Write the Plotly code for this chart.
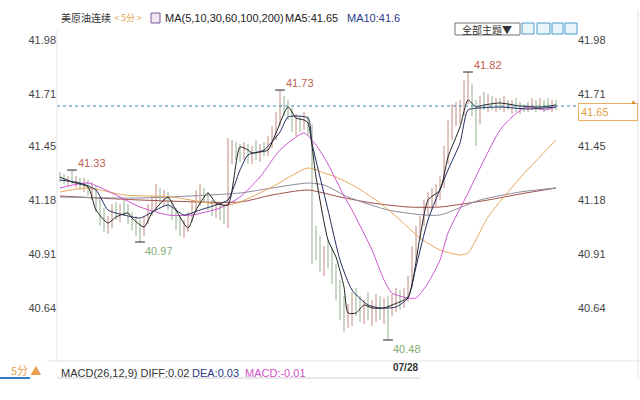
import plotly.graph_objects as go

# ---------------- data ----------------
bar_idx = list(range(125))
opens = [41.31, 41.29, 41.28, 41.29, 41.27, 41.28, 41.25, 41.27, 41.22, 41.24,
         41.15, 41.08, 41.05, 41.07, 41.13, 41.10, 41.14, 41.12, 41.08, 41.05,
         41.04, 41.02, 41.08, 41.14, 41.17, 41.22, 41.19, 41.21, 41.15, 41.10,
         41.06, 41.03, 41.05, 41.10, 41.15, 41.19, 41.22, 41.20, 41.15, 41.13,
         41.14, 41.12, 41.12, 41.40, 41.44, 41.42, 41.40, 41.45, 41.40, 41.43,
         41.41, 41.43, 41.42, 41.47, 41.52, 41.58, 41.66, 41.64, 41.62, 41.56,
         41.58, 41.55, 41.59, 41.52, 40.95, 40.92, 40.86, 40.90, 40.88, 40.80,
         40.72, 40.62, 40.60, 40.62, 40.68, 40.65, 40.63, 40.66, 40.62, 40.64,
         40.65, 40.63, 40.66, 40.62, 40.67, 40.69, 40.68, 40.71, 40.77, 40.92,
         41.02, 41.08, 41.15, 41.18, 41.20, 41.22, 41.27, 41.40, 41.52, 41.60,
         41.63, 41.65, 41.70, 41.72, 41.64, 41.58, 41.68, 41.66, 41.69, 41.65,
         41.67, 41.66, 41.67, 41.65, 41.66, 41.64, 41.65, 41.64, 41.65, 41.67,
         41.65, 41.67, 41.66, 41.65, 41.66]
highs = [41.32, 41.31, 41.30, 41.33, 41.30, 41.29, 41.29, 41.28, 41.27, 41.25,
         41.19, 41.14, 41.10, 41.16, 41.17, 41.16, 41.18, 41.16, 41.12, 41.10,
         41.08, 41.10, 41.16, 41.20, 41.26, 41.24, 41.23, 41.22, 41.18, 41.14,
         41.10, 41.08, 41.12, 41.18, 41.23, 41.26, 41.24, 41.22, 41.18, 41.17,
         41.16, 41.15, 41.49, 41.48, 41.47, 41.46, 41.47, 41.46, 41.45, 41.48,
         41.46, 41.47, 41.50, 41.55, 41.62, 41.73, 41.70, 41.68, 41.64, 41.61,
         41.60, 41.62, 41.60, 41.56, 41.05, 41.00, 40.95, 40.98, 40.94, 40.86,
         40.78, 40.70, 40.66, 40.72, 40.74, 40.70, 40.68, 40.72, 40.68, 40.71,
         40.70, 40.69, 40.70, 40.71, 40.74, 40.73, 40.74, 40.80, 40.95, 41.05,
         41.10, 41.18, 41.22, 41.24, 41.26, 41.30, 41.45, 41.58, 41.66, 41.67,
         41.68, 41.78, 41.82, 41.76, 41.68, 41.70, 41.72, 41.71, 41.70, 41.69,
         41.69, 41.70, 41.68, 41.68, 41.69, 41.67, 41.66, 41.67, 41.69, 41.68,
         41.69, 41.68, 41.69, 41.68, 41.68]
lows = [41.27, 41.26, 41.25, 41.26, 41.24, 41.23, 41.22, 41.20, 41.18, 41.12,
        41.05, 41.02, 41.01, 41.04, 41.08, 41.07, 41.10, 41.06, 41.03, 41.00,
        40.97, 41.00, 41.06, 41.10, 41.13, 41.16, 41.15, 41.13, 41.08, 41.03,
        41.00, 40.99, 41.02, 41.07, 41.12, 41.15, 41.17, 41.13, 41.10, 41.09,
        41.08, 41.06, 41.04, 41.36, 41.38, 41.37, 41.38, 41.36, 41.36, 41.38,
        41.37, 41.40, 41.40, 41.44, 41.48, 41.55, 41.60, 41.58, 41.52, 41.50,
        41.52, 41.53, 41.50, 40.86, 40.88, 40.82, 40.80, 40.84, 40.76, 40.68,
        40.58, 40.52, 40.54, 40.55, 40.60, 40.57, 40.56, 40.58, 40.55, 40.57,
        40.58, 40.56, 40.48, 40.60, 40.62, 40.63, 40.64, 40.67, 40.74, 40.88,
        40.98, 41.05, 41.10, 41.13, 41.15, 41.18, 41.24, 41.36, 41.48, 41.55,
        41.56, 41.60, 41.66, 41.60, 41.45, 41.56, 41.63, 41.62, 41.63, 41.62,
        41.63, 41.62, 41.63, 41.61, 41.62, 41.61, 41.62, 41.62, 41.63, 41.62,
        41.63, 41.62, 41.63, 41.62, 41.63]
closes = [41.29, 41.28, 41.29, 41.27, 41.28, 41.25, 41.27, 41.22, 41.24, 41.15,
          41.08, 41.05, 41.07, 41.13, 41.10, 41.14, 41.12, 41.08, 41.05, 41.04,
          41.02, 41.08, 41.14, 41.17, 41.22, 41.19, 41.21, 41.15, 41.10, 41.06,
          41.03, 41.05, 41.10, 41.15, 41.19, 41.22, 41.20, 41.15, 41.13, 41.14,
          41.12, 41.10, 41.40, 41.44, 41.42, 41.40, 41.45, 41.40, 41.43, 41.41,
          41.43, 41.42, 41.47, 41.52, 41.58, 41.66, 41.64, 41.62, 41.56, 41.58,
          41.55, 41.59, 41.52, 40.95, 40.92, 40.86, 40.90, 40.88, 40.80, 40.72,
          40.62, 40.60, 40.62, 40.68, 40.65, 40.63, 40.66, 40.62, 40.64, 40.65,
          40.63, 40.66, 40.62, 40.67, 40.69, 40.68, 40.71, 40.77, 40.92, 41.02,
          41.08, 41.15, 41.18, 41.20, 41.22, 41.27, 41.40, 41.52, 41.60, 41.63,
          41.65, 41.70, 41.72, 41.64, 41.58, 41.68, 41.66, 41.69, 41.65, 41.67,
          41.66, 41.67, 41.65, 41.66, 41.64, 41.65, 41.64, 41.65, 41.67, 41.65,
          41.67, 41.66, 41.65, 41.66, 41.65]

# moving averages, sampled at bar indices
ma5_x = [0, 3, 7, 9, 12, 14, 17, 18, 21, 23, 27, 28, 32, 34, 37, 39, 42, 45, 47, 48, 50, 52, 54, 57, 59, 61, 62, 64, 67, 69, 71, 72, 74, 76, 78, 81, 83, 87, 90, 92, 95, 97, 100, 102, 104, 106, 110, 115, 120, 124]
ma5_y = [41.295, 41.27, 41.245, 41.13, 41.065, 41.095, 41.115, 41.09, 41.045, 41.115, 41.195, 41.165, 41.04, 41.13, 41.215, 41.165, 41.155, 41.445, 41.43, 41.415, 41.42, 41.43, 41.515, 41.645, 41.59, 41.58, 41.565, 41.295, 40.98, 40.895, 40.745, 40.615, 40.615, 40.655, 40.64, 40.64, 40.655, 40.695, 40.995, 41.18, 41.23, 41.395, 41.545, 41.68, 41.645, 41.655, 41.665, 41.65, 41.645, 41.655]
ma10_x = [0, 5, 9, 12, 16, 20, 24, 27, 31, 35, 39, 42, 45, 47, 51, 55, 57, 62, 63, 67, 70, 73, 77, 80, 84, 87, 89, 92, 97, 100, 102, 105, 110, 117, 124]
ma10_y = [41.28, 41.265, 41.23, 41.13, 41.105, 41.09, 41.13, 41.155, 41.105, 41.13, 41.155, 41.18, 41.33, 41.405, 41.43, 41.52, 41.595, 41.59, 41.465, 41.13, 40.88, 40.73, 40.655, 40.64, 40.645, 40.69, 40.845, 41.08, 41.33, 41.465, 41.63, 41.64, 41.645, 41.635, 41.645]
ma30_x = [0, 7, 13, 20, 27, 33, 40, 45, 50, 55, 61, 64, 67, 71, 73, 78, 81, 83, 87, 89, 92, 95, 97, 102, 106, 110, 113, 116, 118, 121, 124]
ma30_y = [41.24, 41.265, 41.215, 41.145, 41.105, 41.105, 41.14, 41.195, 41.295, 41.43, 41.515, 41.455, 41.36, 41.2, 41.13, 40.93, 40.78, 40.715, 40.69, 40.69, 40.765, 40.88, 41.015, 41.215, 41.38, 41.53, 41.595, 41.64, 41.645, 41.63, 41.645]
ma60_x = [0, 7, 16, 28, 37, 42, 45, 53, 62, 66, 69, 74, 80, 85, 90, 95, 100, 102, 107, 115, 124]
ma60_y = [41.22, 41.24, 41.205, 41.195, 41.165, 41.155, 41.17, 41.245, 41.34, 41.315, 41.295, 41.245, 41.165, 41.08, 40.99, 40.93, 40.905, 40.915, 41.095, 41.29, 41.48]
ma100_x = [0, 20, 45, 53, 62, 66, 72, 82, 91, 95, 105, 115, 124]
ma100_y = [41.195, 41.19, 41.215, 41.24, 41.265, 41.255, 41.195, 41.13, 41.105, 41.105, 41.18, 41.22, 41.24]
ma200_x = [0, 20, 45, 53, 62, 70, 78, 87, 95, 107, 115, 124]
ma200_y = [41.20, 41.18, 41.17, 41.205, 41.23, 41.195, 41.165, 41.145, 41.145, 41.18, 41.21, 41.24]

hi_idx = [3, 55, 102]
hi_val = [41.33, 41.73, 41.82]
lo_idx = [20, 82]
lo_val = [40.97, 40.48]
last_price = 41.65

left_ticks = [40.64, 40.91, 41.18, 41.45, 41.71, 41.98]
tick_text = ["40.64", "40.91", "41.18", "41.45", "41.71", "41.98"]

# ---------------- figure ----------------
W, H = 640, 400
ML, MR, MT, MB = 57, 63, 30, 40
PW, PH = W - ML - MR, H - MT - MB


def px(x):
    return (x - ML) / PW


def py(y):
    return (H - MB - y) / PH


CJK = "Noto Sans CJK SC, Noto Sans, sans-serif"
NUM = "Liberation Sans, Arial, sans-serif"

fig = go.Figure()
fig.add_trace(go.Ohlc(
    x=bar_idx, open=opens, high=highs, low=lows, close=closes,
    increasing=dict(line=dict(color="#c48a7c", width=1)),
    decreasing=dict(line=dict(color="#8fb38c", width=1)),
    tickwidth=0.05, hoverinfo="skip", showlegend=False))

ma_specs = [
    (ma200_x, ma200_y, "#a0524a"),
    (ma100_x, ma100_y, "#8f8a9e"),
    (ma60_x, ma60_y, "#e6a85a"),
    (ma30_x, ma30_y, "#d155cf"),
    (ma10_x, ma10_y, "#1f2b63"),
    (ma5_x, ma5_y, "#222222"),
]
for xs, ys, col in ma_specs:
    fig.add_trace(go.Scatter(x=xs, y=ys, mode="lines",
                             line=dict(color=col, width=1, shape="spline", smoothing=0.6),
                             hoverinfo="skip", showlegend=False))

# extreme markers
fig.add_trace(go.Scatter(x=hi_idx + lo_idx, y=hi_val + lo_val, mode="markers",
                         marker=dict(symbol="line-ew", size=7, line=dict(color="#222", width=1)),
                         hoverinfo="skip", showlegend=False))
# invisible trace for right axis
fig.add_trace(go.Scatter(x=bar_idx, y=closes, yaxis="y2", mode="lines",
                         line=dict(width=0), opacity=0, hoverinfo="skip", showlegend=False))

ann = []
for i, v in zip(hi_idx, hi_val):
    ann.append(dict(x=i, y=v, xref="x", yref="y", text=f"{v:.2f}", showarrow=False,
                    xanchor="left", yanchor="middle", xshift=4, yshift=7,
                    font=dict(family=NUM, size=11, color="#c0604f")))
for i, v in zip(lo_idx, lo_val):
    ann.append(dict(x=i, y=v, xref="x", yref="y", text=f"{v:.2f}", showarrow=False,
                    xanchor="left", yanchor="middle", xshift=3, yshift=-9,
                    font=dict(family=NUM, size=11, color="#7fae6f")))

# right last-price box
ann.append(dict(x=px(578), y=last_price, xref="paper", yref="y", text=f"{last_price:.2f}",
                showarrow=False, xanchor="left", yanchor="middle", yshift=-6,
                font=dict(family=NUM, size=11, color="#e3a040"),
                bordercolor="#e8b060", borderwidth=1, borderpad=2, bgcolor="white", width=54, align="left"))
ann.append(dict(x=px(633), y=py(102), xref="paper", yref="paper", text="▲", showarrow=False,
                xanchor="center", yanchor="middle", font=dict(size=7, color="#e08a30")))

# header
def head(x, y, text, color, size=11, family=CJK):
    ann.append(dict(x=px(x), y=py(y), xref="paper", yref="paper", text=text, showarrow=False,
                    xanchor="left", yanchor="middle", font=dict(family=family, size=size, color=color)))

head(59, 18, "美原油连续", "#333333", 10)
head(112, 18, "&lt; 5分 &gt;", "#e8a050", 9)
head(163, 18, "MA(5,10,30,60,100,200)", "#222222", 11, NUM)
head(283, 18, "MA5:41.65", "#222222", 11, NUM)
head(345, 18, "MA10:41.6", "#2a3a8a", 11, NUM)
ann.append(dict(x=px(487), y=py(29), xref="paper", yref="paper", text="全部主题▼", showarrow=False,
                xanchor="center", yanchor="middle",
                font=dict(family=CJK, size=10, color="#333333")))

# footer
head(9, 370, "5分 ▲", "#e8a050", 11)
head(59, 373, "MACD(26,12,9) DIFF:0.02", "#333333", 11, NUM)
head(190, 373, "DEA:0.03", "#2a3a8a", 11, NUM)
head(243, 373, "MACD:-0.01", "#d050c8", 11, NUM)
ann.append(dict(x=px(405), y=py(367), xref="paper", yref="paper", text="<b>07/28</b>", showarrow=False,
                xanchor="center", yanchor="middle",
                font=dict(family=NUM, size=10, color="#333333")))

shapes = [
    dict(type="line", xref="paper", yref="y", x0=0, x1=1, y0=last_price, y1=last_price,
         line=dict(color="#2f8aa8", width=1, dash="3px,3px")),
    dict(type="line", xref="paper", yref="paper", x0=px(57), x1=px(57), y0=py(30), y1=py(361),
         line=dict(color="#e6e6e6", width=1)),
    dict(type="line", xref="paper", yref="paper", x0=px(638), x1=px(638), y0=py(10), y1=py(378),
         line=dict(color="#e0e0e0", width=1)),
    dict(type="line", xref="paper", yref="paper", x0=px(47), x1=px(640), y0=py(361), y1=py(361),
         line=dict(color="#e3e3e3", width=1)),
    dict(type="line", xref="paper", yref="paper", x0=px(57), x1=px(420), y0=py(378), y1=py(378),
         line=dict(color="#d0d0d0", width=1)),
    dict(type="line", xref="paper", yref="paper", x0=px(0), x1=px(30), y0=py(378), y1=py(378),
         line=dict(color="#3478c8", width=2)),
    # MA icon
    dict(type="rect", xref="paper", yref="paper", x0=px(151), x1=px(160), y0=py(23), y1=py(13),
         line=dict(color="#7a5a9a", width=1), fillcolor="#f3e6f3"),
    # theme button
    dict(type="rect", xref="paper", yref="paper", x0=px(455), x1=px(520), y0=py(35), y1=py(23),
         line=dict(color="#777777", width=1), fillcolor="white"),
]
for x0, x1 in [(522, 534), (537, 550), (552, 563), (565, 577)]:
    shapes.append(dict(type="rect", xref="paper", yref="paper", x0=px(x0), x1=px(x1),
                       y0=py(34), y1=py(23), line=dict(color="#4a9ad0", width=1),
                       fillcolor="#eaf4fb"))

y_range = [42.18 - (H - MB) / 200, 42.18 - MT / 200]
fig.update_layout(
    width=W, height=H, margin=dict(l=ML, r=MR, t=MT, b=MB),
    paper_bgcolor="white", plot_bgcolor="white",
    xaxis=dict(range=[-0.75, 129.25], showticklabels=False, showgrid=False, zeroline=False,
               showline=False, rangeslider=dict(visible=False), fixedrange=True),
    yaxis=dict(range=y_range, tickvals=left_ticks, ticktext=tick_text, showgrid=False,
               zeroline=False, showline=False, ticks="", automargin=False,
               tickfont=dict(family=NUM, size=11, color="#444444")),
    yaxis2=dict(range=y_range, overlaying="y", side="right", tickvals=left_ticks, ticktext=tick_text,
                showgrid=False, zeroline=False, showline=False, ticks="", automargin=False,
                tickfont=dict(family=NUM, size=11, color="#444444")),
    annotations=ann, shapes=shapes, showlegend=False, hovermode=False,
)

fig.write_html("out.html", config={"displayModeBar": False},
               post_script="document.body.style.margin='0';")
